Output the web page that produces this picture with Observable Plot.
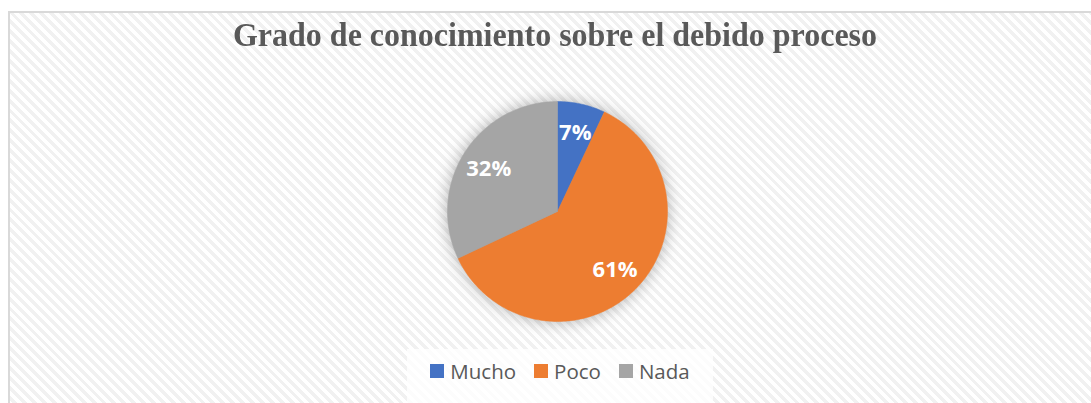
<!DOCTYPE html>
<html>
<head>
<meta charset="utf-8">
<script src="https://cdn.jsdelivr.net/npm/d3@7"></script>
<script src="https://cdn.jsdelivr.net/npm/@observablehq/plot@0.6"></script>
<style>
  html, body { margin: 0; padding: 0; background: #fff; }
  #wrap { position: relative; width: 1091px; height: 403px; overflow: hidden; background: #fff; }
  #frame {
    position: absolute; left: 8px; top: 11px; right: -2px; bottom: -2px;
    border-left: 2px solid #d9d9d9; border-top: 2px solid #d9d9d9;
    background: repeating-linear-gradient(45deg, #ffffff 0px, #ffffff 3.5px, #f1f1f1 3.5px, #f1f1f1 7px);
  }
  #title {
    position: absolute; left: 0; width: 1110px; top: 18px; text-align: center;
    font-family: "Liberation Serif", "Times New Roman", serif; font-weight: bold;
    font-size: 32px; color: #595959; white-space: nowrap;
    transform: scaleY(1.08); transform-origin: center bottom;
  }
  #chart { position: absolute; left: 0; top: 0; }
  #chart svg { background: transparent !important; overflow: visible; }
  #chart g[aria-label="line"] { filter: drop-shadow(0 0 8px rgba(0,0,0,0.3)); }
  #legend {
    position: absolute; left: 407px; top: 349px; width: 306px; height: 60px;
    background: rgba(255,255,255,0.75);
    display: flex; justify-content: center; align-items: flex-start; padding-top: 8px; box-sizing: border-box;
    font-family: "Open Sans", sans-serif; font-size: 20.5px; color: #595959;
  }
  .item { display: flex; align-items: center; margin: 0 9px; }
  .sw { width: 14px; height: 14px; margin-right: 6px; }
</style>
</head>
<body>
<div id="wrap">
  <div id="frame"></div>
  <div id="title"></div>
  <div id="chart"></div>
  <div id="legend"></div>
</div>
<script>
const titleText = "Grado de conocimiento sobre el debido proceso";
const categories = ["Mucho", "Poco", "Nada"];
const values = [7, 61, 32];
const colors = ["#4472C4", "#ED7D31", "#A5A5A5"];

document.getElementById("title").textContent = titleText;

// Build pie slices as polygons in unit-circle data space
const total = d3.sum(values);
const pie = d3.pie().sort(null).value(d => d)(values);
const outline = [];
const labels = [];
pie.forEach((p, i) => {
  const a0 = p.startAngle, a1 = p.endAngle;
  const n = Math.max(2, Math.ceil((a1 - a0) / (Math.PI / 180)));
  outline.push({cat: categories[i], x: 0, y: 0});
  for (let k = 0; k <= n; k++) {
    const a = a0 + (a1 - a0) * k / n;
    outline.push({cat: categories[i], x: Math.sin(a), y: Math.cos(a)});
  }
  outline.push({cat: categories[i], x: 0, y: 0});
  const m = (a0 + a1) / 2;
  labels.push({x: 0.74 * Math.sin(m), y: 0.74 * Math.cos(m), text: Math.round(values[i] / total * 100) + "%"});
});

const chart = Plot.plot({
  width: 1091,
  height: 403,
  margin: 0,
  x: {domain: [-1, 1], range: [447, 667], axis: null},
  y: {domain: [-1, 1], range: [321, 101], axis: null},
  color: {domain: categories, range: colors},
  style: {background: "transparent"},
  marks: [
    Plot.line(outline, {x: "x", y: "y", z: "cat", fill: "cat", stroke: "cat", strokeWidth: 0.5, curve: "linear"}),
    Plot.text(labels, {x: "x", y: "y", text: "text", fill: "white", fontSize: 22, fontWeight: "bold", fontFamily: "Open Sans", dy: 1})
  ]
});
document.getElementById("chart").appendChild(chart);

const legend = document.getElementById("legend");
categories.forEach((c, i) => {
  const it = document.createElement("div");
  it.className = "item";
  const sw = document.createElement("div");
  sw.className = "sw";
  sw.style.background = colors[i];
  const t = document.createElement("span");
  t.textContent = c;
  it.appendChild(sw); it.appendChild(t);
  legend.appendChild(it);
});
</script>
</body>
</html>
